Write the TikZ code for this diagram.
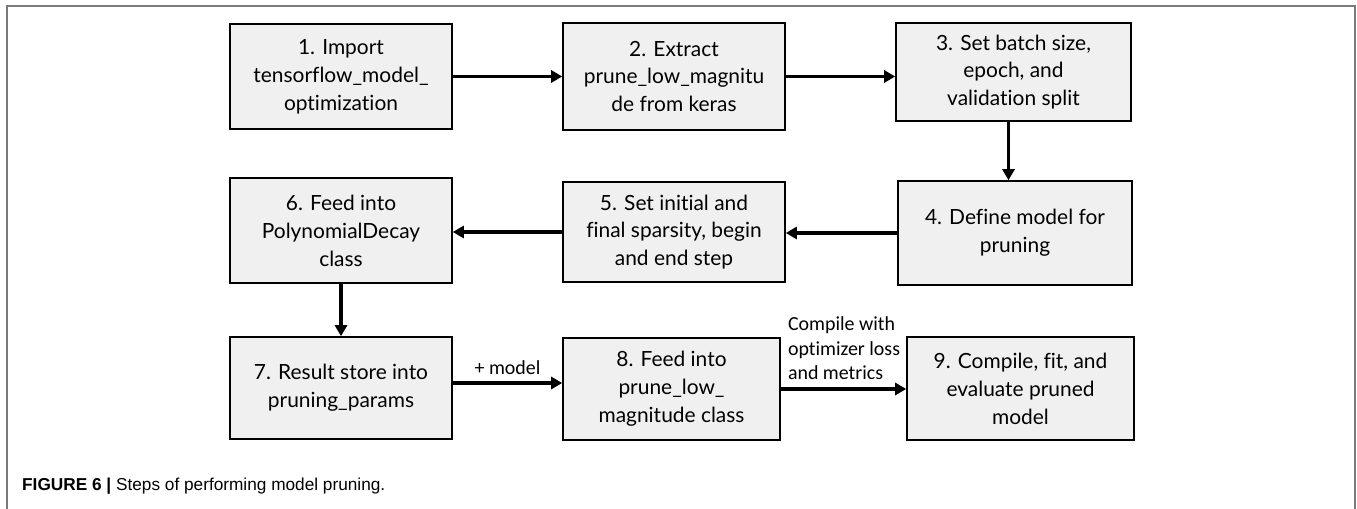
\documentclass[tikz,border=0pt]{standalone}
\usepackage{fontspec}
\setmainfont{Lato}[Ligatures=NoCommon]
\newfontfamily\labelfont{Carlito}[Ligatures=NoCommon]
\newfontfamily\capfont{Liberation Sans}
\usetikzlibrary{arrows.meta,calc}
\definecolor{boxfill}{HTML}{F0F0F0}
\definecolor{framegray}{HTML}{7A7A7A}
\tikzset{
  stepbox/.style={draw=black, line width=1.6bp, fill=boxfill, inner sep=0pt,
    align=center, font=\fontsize{21}{28}\selectfont, anchor=center},
  arr/.style={line width=3.5bp, -{Triangle[length=11bp,width=12bp]}},
  edgelabel/.style={font=\labelfont\fontsize{20}{24.5}\selectfont, inner sep=0pt}
}
\begin{document}
\begin{tikzpicture}[x=1bp,y=-1bp]
  \useasboundingbox (0,0) rectangle (1357,509);
  % outer frame
  \draw[framegray, line width=1.5bp] (7,520) -- (7,6) -- (1355,6) -- (1355,520);

  % process steps
  \node[stepbox, minimum width=222bp, minimum height=105bp] (b1) at (341,76.5)
    {1. Import\\tensorflow\_model\_\\optimization};
  \node[stepbox, minimum width=222bp, minimum height=107bp] (b2) at (674,76.5)
    {2. Extract\\prune\_low\_magnitu\\de from keras};
  \node[stepbox, minimum width=235bp, minimum height=98bp] (b3) at (1013.5,72)
    {3. Set batch size,\\epoch, and\\validation split};
  \node[stepbox, minimum width=234bp, minimum height=104bp] (b4) at (1015,233)
    {4. Define model for\\pruning};
  \node[stepbox, minimum width=222bp, minimum height=100bp] (b5) at (674,232)
    {5. Set initial and\\final sparsity, begin\\and end step};
  \node[stepbox, minimum width=222bp, minimum height=105bp] (b6) at (341,230.5)
    {6. Feed into\\PolynomialDecay\\class};
  \node[stepbox, minimum width=222bp, minimum height=102bp] (b7) at (341,388)
    {7. Result store into\\pruning\_params};
  \node[stepbox, minimum width=217bp, minimum height=102bp] (b8) at (671.5,389)
    {8. Feed into\\prune\_low\_\\magnitude class};
  \node[stepbox, minimum width=227bp, minimum height=103bp] (b9) at (1020.5,388.5)
    {9. Compile, fit, and\\evaluate pruned\\model};

  % connectors
  \draw[arr] (b1.east) -- (b2.west);
  \draw[arr] (b2.east) -- (b2.east -| b3.west);
  \path ([xshift=-5bp]b3.south) coordinate (s34);
  \draw[arr] (s34) -- (s34 |- b4.north);
  \draw[arr] (b4.west) -- (b4.west -| b5.east);
  \draw[arr] (b5.west) -- (b5.west -| b6.east);
  \draw[arr] (b6.south) -- (b7.north);
  \path ([yshift=5bp]b7.east) coordinate (s78);
  \draw[arr] (s78) -- (s78 -| b8.west) coordinate[pos=0.5] (m78);
  \draw[arr] (b8.east) -- (b8.east -| b9.west);

  % connector labels
  \node[edgelabel, anchor=south] (l78) at ($(m78)+(0,-8)$) {+ model};
  \node[edgelabel, anchor=south west, align=left] (l89) at ($(b8.east)+(7,-9)$)
    {Compile with\\optimizer loss\\and metrics};

  % caption
  \node[anchor=base west, inner sep=0pt, font=\capfont\fontsize{17.3}{20}\selectfont] (cap) at (22,490)
    {\textbf{FIGURE 6 |} Steps of performing model pruning.};
\end{tikzpicture}
\end{document}
